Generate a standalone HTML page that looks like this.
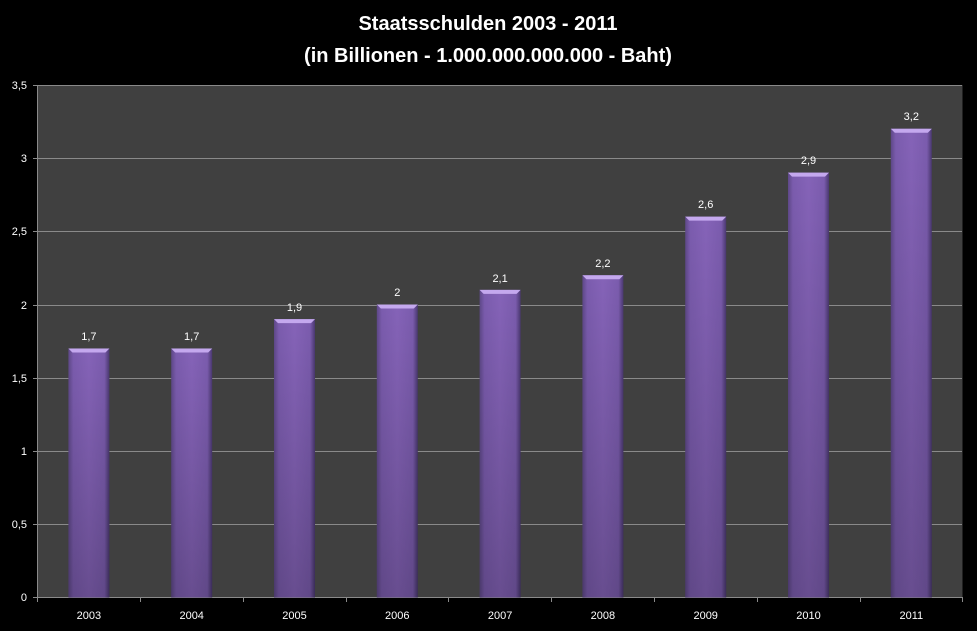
<!DOCTYPE html>
<html><head><meta charset="utf-8"><style>
body{margin:0;background:#000;}
svg{display:block;font-family:"Liberation Sans",sans-serif;}
</style></head><body>
<svg width="977" height="631" xmlns="http://www.w3.org/2000/svg">
<defs>
<linearGradient id="g" x1="0" y1="0" x2="1" y2="0">
<stop offset="0" stop-color="#5e4888"/>
<stop offset="0.12" stop-color="#7b5cae"/>
<stop offset="0.5" stop-color="#8563b8"/>
<stop offset="0.88" stop-color="#7b5cae"/>
<stop offset="1" stop-color="#4a3870"/>
</linearGradient>
<linearGradient id="v" x1="0" y1="0" x2="0" y2="1">
<stop offset="0" stop-color="#000" stop-opacity="0"/>
<stop offset="1" stop-color="#000" stop-opacity="0.22"/>
</linearGradient>
<g id="cap"><polygon points="0,0 41,0 37,4 4,4" fill="#c4a8ee"/></g>
</defs>
<rect width="977" height="631" fill="#000"/>
<text x="488" y="30" fill="#fff" font-size="20" font-weight="bold" text-anchor="middle">Staatsschulden 2003 - 2011</text>
<text x="488" y="62" fill="#fff" font-size="20" font-weight="bold" text-anchor="middle">(in Billionen - 1.000.000.000.000  - Baht)</text>
<rect x="37.5" y="85" width="925" height="512.5" fill="#404040"/>
<g stroke="#8a8a8a" stroke-width="1">
<line x1="33" y1="85.5" x2="962" y2="85.5"/>
<line x1="33" y1="158.5" x2="962" y2="158.5"/>
<line x1="33" y1="231.5" x2="962" y2="231.5"/>
<line x1="33" y1="305.5" x2="962" y2="305.5"/>
<line x1="33" y1="378.5" x2="962" y2="378.5"/>
<line x1="33" y1="451.5" x2="962" y2="451.5"/>
<line x1="33" y1="524.5" x2="962" y2="524.5"/>
<line x1="33" y1="597.5" x2="962" y2="597.5"/>
<line x1="37.5" y1="85" x2="37.5" y2="602"/>
<line x1="140.5" y1="597" x2="140.5" y2="602"/>
<line x1="243.5" y1="597" x2="243.5" y2="602"/>
<line x1="346.5" y1="597" x2="346.5" y2="602"/>
<line x1="448.5" y1="597" x2="448.5" y2="602"/>
<line x1="551.5" y1="597" x2="551.5" y2="602"/>
<line x1="654.5" y1="597" x2="654.5" y2="602"/>
<line x1="757.5" y1="597" x2="757.5" y2="602"/>
<line x1="860.5" y1="597" x2="860.5" y2="602"/>
<line x1="962.5" y1="597" x2="962.5" y2="602"/>
</g>
<g fill="#fff" font-size="11" text-anchor="end">
<text x="27" y="89">3,5</text><text x="27" y="162">3</text><text x="27" y="235">2,5</text>
<text x="27" y="309">2</text><text x="27" y="382">1,5</text><text x="27" y="455">1</text>
<text x="27" y="528">0,5</text><text x="27" y="601">0</text>
</g>
<g>
<rect x="68.4" y="348.45" width="41" height="249.05" fill="url(#g)"/><rect x="68.4" y="348.45" width="41" height="249.05" fill="url(#v)"/><use href="#cap" x="68.4" y="348.45"/>
<rect x="171.2" y="348.45" width="41" height="249.05" fill="url(#g)"/><rect x="171.2" y="348.45" width="41" height="249.05" fill="url(#v)"/><use href="#cap" x="171.2" y="348.45"/>
<rect x="274" y="319.15" width="41" height="278.35" fill="url(#g)"/><rect x="274" y="319.15" width="41" height="278.35" fill="url(#v)"/><use href="#cap" x="274" y="319.15"/>
<rect x="376.8" y="304.5" width="41" height="293" fill="url(#g)"/><rect x="376.8" y="304.5" width="41" height="293" fill="url(#v)"/><use href="#cap" x="376.8" y="304.5"/>
<rect x="479.6" y="289.85" width="41" height="307.65" fill="url(#g)"/><rect x="479.6" y="289.85" width="41" height="307.65" fill="url(#v)"/><use href="#cap" x="479.6" y="289.85"/>
<rect x="582.4" y="275.2" width="41" height="322.3" fill="url(#g)"/><rect x="582.4" y="275.2" width="41" height="322.3" fill="url(#v)"/><use href="#cap" x="582.4" y="275.2"/>
<rect x="685.2" y="216.6" width="41" height="380.9" fill="url(#g)"/><rect x="685.2" y="216.6" width="41" height="380.9" fill="url(#v)"/><use href="#cap" x="685.2" y="216.6"/>
<rect x="788" y="172.65" width="41" height="424.85" fill="url(#g)"/><rect x="788" y="172.65" width="41" height="424.85" fill="url(#v)"/><use href="#cap" x="788" y="172.65"/>
<rect x="890.8" y="128.7" width="41" height="468.8" fill="url(#g)"/><rect x="890.8" y="128.7" width="41" height="468.8" fill="url(#v)"/><use href="#cap" x="890.8" y="128.7"/>
</g>
<g fill="#fff" font-size="11" text-anchor="middle">
<text x="88.9" y="340">1,7</text><text x="191.7" y="340">1,7</text><text x="294.5" y="311">1,9</text>
<text x="397.3" y="296">2</text><text x="500.1" y="282">2,1</text><text x="602.9" y="267">2,2</text>
<text x="705.7" y="208">2,6</text><text x="808.5" y="164">2,9</text><text x="911.3" y="120">3,2</text>
<text x="88.9" y="619">2003</text><text x="191.7" y="619">2004</text><text x="294.5" y="619">2005</text>
<text x="397.3" y="619">2006</text><text x="500.1" y="619">2007</text><text x="602.9" y="619">2008</text>
<text x="705.7" y="619">2009</text><text x="808.5" y="619">2010</text><text x="911.3" y="619">2011</text>
</g>
</svg>
</body></html>
